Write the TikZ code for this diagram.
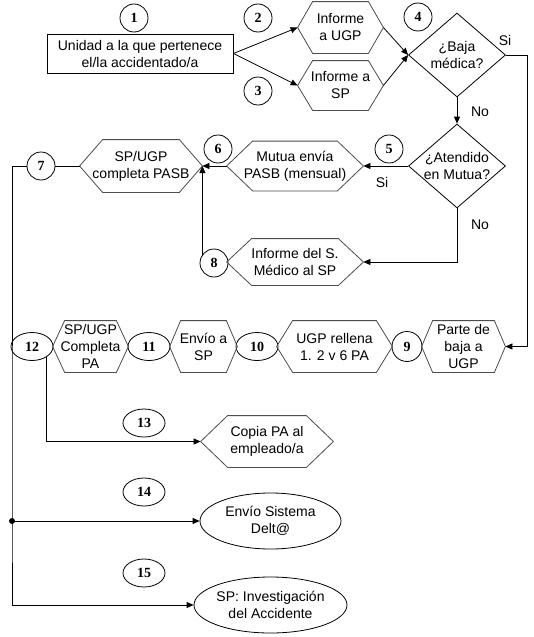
\documentclass[tikz,border=0pt]{standalone}
\usepackage{fontspec}
\setmainfont{Liberation Sans}
\newfontfamily\numfont{Liberation Serif}
\usetikzlibrary{arrows.meta,shapes.geometric}
\newcommand{\hexframe}[2]{\draw[hexline] (#1.west) -- ([xshift=#2]#1.north west) -- ([xshift=-#2]#1.north east) -- (#1.east) -- ([xshift=-#2]#1.south east) -- ([xshift=#2]#1.south west) -- cycle;}

\begin{document}
\begin{tikzpicture}[x=1pt,y=-1pt,font=\fontsize{14}{17}\selectfont,line width=0.8pt,
    arr/.style={-{Triangle[length=7pt,width=6pt]}},
    hexbox/.style={inner sep=0pt,align=center},
    hexline/.style={draw=black!70},
    num/.style={draw,circle,minimum size=28,inner sep=0pt,font=\numfont\fontsize{14}{16}\selectfont\bfseries},
    numell/.style={draw,ellipse,minimum width=42,minimum height=28,inner sep=0pt,font=\numfont\fontsize{14}{16}\selectfont\bfseries},
    decision/.style={draw,diamond,inner sep=-6pt,minimum width=97,minimum height=84,align=center},
    endell/.style={draw,ellipse,minimum width=141,minimum height=56,inner sep=0pt,align=center}]
    \path[fill=white,use as bounding box] (0,0) rectangle (533,637);
    \node[draw,minimum width=186,minimum height=39,inner sep=2pt,align=center] (unit) at (140,53.5) {Unidad a la que pertenece\\el/la accidentado/a};
    \node[num] (n1) at (134,18) {1};
    \node[hexbox,minimum width=85,minimum height=51] (hUGP) at (340.5,27.5) {Informe\\a UGP};
    \node[hexbox,minimum width=85,minimum height=49] (hSP) at (340.5,85.5) {Informe a\\SP};
    \node[num] (n2) at (258,18) {2};
    \node[num] (n3) at (258,91) {3};
    \node[decision] (dBaja) at (457,55) {¿Baja\\médica?};
    \node[num] (n4) at (418,17) {4};
    \node (si1) at (505,40) {Si};
    \node (no1) at (480,112) {No};
    \node[decision] (dMutua) at (457,166) {¿Atendido\\en Mutua?};
    \node[num] (n5) at (389,149) {5};
    \node (si2) at (382,182) {Si};
    \node (no2) at (480,225) {No};
    \node[hexbox,minimum width=136,minimum height=49] (hMutua) at (295,166) {Mutua envía\\PASB (mensual)};
    \node[num] (n6) at (218,149) {6};
    \node[hexbox,minimum width=122,minimum height=52] (hPASB) at (141,166) {SP/UGP\\completa PASB};
    \node[num] (n7) at (41,166) {7};
    \node[hexbox,minimum width=136,minimum height=46] (hMedico) at (295,262) {Informe del S.\\Médico al SP};
    \node[num] (n8) at (214,263) {8};
    \node[hexbox,minimum width=83,minimum height=51] (hParte) at (463.5,346.5) {Parte de\\baja a\\UGP};
    \node[num,minimum size=30] (n9) at (407,346.5) {9};
    \node[hexbox,minimum width=115,minimum height=51] (hRellena) at (334.5,346.5) {UGP rellena\\1. 2 v 6 PA};
    \node[numell] (n10) at (257,346.5) {10};
    \node[hexbox,minimum width=67,minimum height=51] (hEnvio) at (203.5,346.5) {Envío a\\SP};
    \node[numell] (n11) at (149,346.5) {11};
    \node[hexbox,minimum width=75,minimum height=51] (hCompleta) at (90.5,346.5) {SP/UGP\\Completa\\PA};
    \node[numell] (n12) at (32,346.5) {12};
    \node[numell] (n13) at (144,423) {13};
    \node[hexbox,minimum width=132,minimum height=51] (hCopia) at (267,441.5) {Copia PA al\\empleado/a};
    \node[numell] (n14) at (144,492) {14};
    \node[endell] (eDelta) at (270.5,521) {Envío Sistema\\Delt@};
    \node[numell] (n15) at (144,573) {15};
    \node[endell] (eInvest) at (270.5,605) {SP: Investigación\\del Accidente};
    \coordinate (split) at (12,521);
    \hexframe{hUGP}{15}
    \hexframe{hSP}{15}
    \hexframe{hMutua}{26}
    \hexframe{hPASB}{23}
    \hexframe{hMedico}{25}
    \hexframe{hParte}{11}
    \hexframe{hRellena}{16}
    \hexframe{hEnvio}{11}
    \hexframe{hCompleta}{12}
    \hexframe{hCopia}{27}
    \draw[arr] (unit.east) -- (hUGP.west);
    \draw[arr] (unit.east) -- (hSP.west);
    \draw[arr] (hUGP.east) -- (dBaja.west);
    \draw[arr] (hSP.east) -- (dBaja.west);
    \draw[arr] (dBaja.south) -- (dMutua.north);
    \draw[arr] (dBaja.east) -- ++(21,0) |- (hParte.east);
    \draw[arr] (dMutua.west) -- (hMutua.east);
    \draw[arr] (dMutua.south) |- (hMedico.east);
    \draw[arr] (hMutua.west) -- (hPASB.east);
    \draw[arr] (hPASB.east |- n8.149) -- (hPASB.east);
    \draw (hPASB.west) -- (n7.east);
    \draw[arr] (n7.west) -| (split) |- (eInvest.west);
    \draw[arr] (split) -- (eDelta.west);
    \fill (split) circle (3);
    \draw[arr] (n12.323) |- (hCopia.west);
\end{tikzpicture}
\end{document}
